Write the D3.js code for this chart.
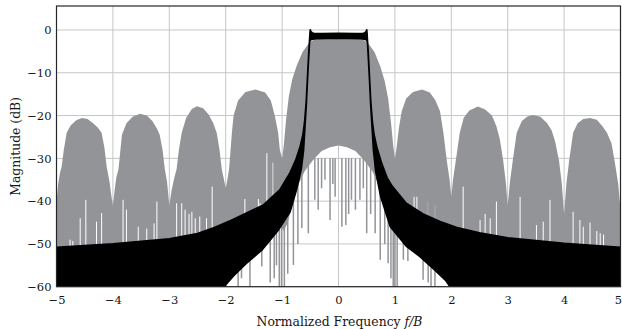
<!DOCTYPE html>
<html>
<head>
<meta charset="utf-8">
<script src="https://cdn.jsdelivr.net/npm/d3@7"></script>
<style>
  html, body { margin: 0; padding: 0; background: #fff; }
  svg { display: block; }
  text { font-family: "DejaVu Serif", serif; fill: #151515; }
</style>
</head>
<body>
<svg id="chart" width="622" height="329"></svg>
<script>
// Axis ticks
const freqTicks = [-5, -4, -3, -2, -1, 0, 1, 2, 3, 4, 5];
const dbTicks = [0, -10, -20, -30, -40, -50, -60];

// Signal spectrum: upper envelope of the lobes, [f/B, dB]
const spectrumTop = [
  [-5.00,-40],[-4.97,-36],[-4.94,-33.5],[-4.91,-32],[-4.87,-28],[-4.82,-24],[-4.75,-22.3],[-4.65,-21.1],[-4.55,-20.6],[-4.45,-20.8],[-4.35,-21.8],[-4.27,-22.8],[-4.20,-24],[-4.15,-27.5],[-4.11,-32],[-4.06,-35.5],[-4.03,-38.5],[-4.00,-41],
  [-3.97,-37.5],[-3.94,-34.5],[-3.90,-32.5],[-3.84,-24.5],[-3.76,-21.8],[-3.65,-20.3],[-3.52,-19.6],[-3.40,-20.0],[-3.30,-21.3],[-3.22,-23],[-3.17,-24.5],[-3.12,-28],[-3.08,-32.5],[-3.04,-35.5],[-3.00,-41],
  [-2.96,-37.5],[-2.91,-34.5],[-2.87,-32.5],[-2.83,-28],[-2.78,-24],[-2.70,-20.5],[-2.60,-18.5],[-2.51,-17.8],[-2.40,-18.3],[-2.30,-19.8],[-2.22,-21.8],[-2.16,-24],[-2.11,-28],[-2.07,-32.5],[-2.03,-35],[-2.00,-37],
  [-1.97,-35],[-1.94,-32.5],[-1.89,-24],[-1.86,-20],[-1.78,-16.5],[-1.65,-14.5],[-1.47,-13.9],[-1.30,-14.6],[-1.20,-16.5],[-1.13,-20],[-1.07,-24],[-1.04,-28],[-1.00,-30],
  [-0.97,-27],[-0.93,-21],[-0.88,-15.5],[-0.82,-11.5],[-0.74,-8.3],[-0.64,-5.2],[-0.52,-3.0],[-0.40,-2.0],[-0.20,-1.6],[0.00,-1.5],[0.20,-1.6],[0.40,-2.0],[0.52,-3.0],[0.64,-5.2],[0.74,-8.5],[0.82,-12],[0.88,-16],[0.93,-21.5],[0.97,-27],[1.00,-30],
  [1.03,-27.5],[1.07,-23],[1.12,-19],[1.20,-16],[1.32,-14.5],[1.48,-13.9],[1.62,-14.6],[1.72,-16.5],[1.80,-19],[1.86,-24],[1.92,-30.5],[1.97,-35],[2.00,-39],
  [2.03,-35],[2.08,-30.5],[2.15,-24],[2.22,-20.5],[2.32,-18.8],[2.47,-17.9],[2.60,-18.6],[2.72,-20],[2.80,-22.5],[2.86,-25.5],[2.92,-30.5],[2.97,-36],[3.00,-41],
  [3.04,-35.5],[3.09,-30.5],[3.16,-24],[3.25,-21.3],[3.35,-20.2],[3.45,-19.9],[3.58,-20.3],[3.70,-21.8],[3.78,-23.5],[3.84,-26],[3.91,-30.5],[3.96,-36],[4.00,-43],
  [4.04,-36],[4.09,-30.5],[4.16,-24],[4.24,-21.8],[4.34,-20.8],[4.46,-20.6],[4.58,-21],[4.68,-22.5],[4.76,-24],[4.84,-26.5],[4.90,-31],[4.96,-36],[5.00,-42]
];

// Signal spectrum: lower edge of the filled trace, [f/B, dB]
const spectrumBottom = [
  [-5.00,-61],[-1.99,-61],[-1.96,-48],[-1.50,-46],[-1.10,-44],[-0.97,-47],[-0.90,-45],[-0.85,-42.5],[-0.80,-40],
  [-0.70,-35.8],[-0.60,-33],[-0.45,-30.4],[-0.30,-28.3],[-0.15,-27.4],[0.00,-27],[0.15,-27.4],[0.30,-28.3],[0.45,-30.4],
  [0.60,-33],[0.70,-35.8],[0.80,-40],[0.85,-42.5],[0.90,-45],[0.97,-47],[1.10,-44],[1.50,-46],[1.96,-48],[1.99,-61],[5.00,-61]
];

// Narrow deep nulls inside the side lobes: [f/B, dB where the null opens]
const spectrumDips = [
  [-4.76,-49],[-4.71,-49.3],[-4.58,-44],[-4.48,-39.7],[-4.29,-44.8],[-4.20,-42.8],[-3.82,-39.7],[-3.76,-42],
  [-3.55,-46],[-3.40,-46.4],[-3.27,-45.2],[-3.22,-40.1],[-2.87,-40.5],[-2.78,-40.5],[-2.72,-42],[-2.65,-43],
  [-2.60,-42.5],[-2.54,-44],[-2.46,-43.6],[-2.34,-44],[-2.24,-36.6],[-1.72,-38.6],[-1.66,-39.5],[-1.42,-39.5],
  [-1.39,-40.5],[-1.27,-28.8],[-1.16,-31],[1.34,-39],[1.39,-39],[1.59,-40.1],[1.71,-41],[2.21,-36.6],
  [2.51,-44.4],[2.60,-43],[2.69,-44],[2.80,-40.1],[3.22,-39],[3.51,-45.6],[3.63,-44.8],[3.75,-39.7],
  [4.16,-42.5],[4.28,-44.4],[4.34,-46],[4.46,-45],[4.58,-47],[4.64,-47.5],[4.70,-47.8]
];

// Spectral spikes reaching below the main-lobe floor: [f/B, lowest dB]
const spectrumSpikes = [
  [-1.78,-60],[-1.72,-58],[-1.57,-60],[-1.36,-55.3],[-1.21,-59],[-1.14,-58],[-1.10,-55],[-1.05,-60],[-1.01,-60],
  [-0.96,-60],[-0.90,-57],[-0.80,-54.9],[-0.72,-50],[-0.65,-46.3],[-0.535,-47.5],[-0.42,-39.7],[-0.36,-42],
  [-0.30,-37],[-0.24,-35],[-0.15,-44.4],[-0.10,-36],[-0.06,-39],[0.06,-46],[0.13,-45.6],[0.18,-43],[0.23,-39.7],
  [0.30,-42],[0.38,-39.7],[0.44,-37],[0.50,-47.5],[0.57,-43],[0.65,-47.5],[0.74,-53.7],[0.82,-50],[0.88,-54.5],
  [0.93,-58],[0.97,-60],[1.00,-60],[1.04,-60],[1.15,-53.7],[1.23,-54],[1.50,-58.4],[1.59,-59],[1.64,-60],[1.71,-60]
];

// Filter response: upper and lower envelopes, [f/B, dB]
const filterUpper = [
  [-5.00,-50.8],[-4.00,-50.0],[-3.00,-48.8],[-2.50,-47.6],[-2.20,-46.2],[-1.90,-44.5],[-1.63,-42.8],[-1.33,-40.9],
  [-1.04,-37.4],[-0.86,-33.4],[-0.76,-30.5],[-0.68,-27.3],[-0.63,-24.5],[-0.60,-21.5],[-0.57,-16.5],[-0.545,-10],
  [-0.525,-5],[-0.512,-2.3],[-0.504,-0.6],[-0.500,0.0],[-0.49,-0.4],[-0.47,-0.65],[-0.44,-0.8],[-0.30,-0.85],
  [0.00,-0.8],[0.30,-0.85],[0.44,-0.8],[0.47,-0.65],[0.49,-0.4],[0.500,0.0],[0.504,-0.6],[0.512,-2.3],[0.525,-5],
  [0.545,-10],[0.57,-16.5],[0.60,-21.5],[0.63,-24.5],[0.68,-27.5],[0.76,-31],[0.86,-34.5],[0.95,-36.5],[1.20,-40.5],
  [1.50,-43],[1.80,-44.8],[2.10,-46.2],[2.50,-47.4],[3.00,-48.6],[4.00,-49.9],[5.00,-50.8]
];
const filterLower = [
  [-5.00,-61],[-2.03,-61],[-2.00,-59.5],[-1.85,-57.3],[-1.63,-54.5],[-1.35,-51.3],[-1.07,-46.8],[-0.86,-42.5],
  [-0.75,-37.5],[-0.66,-32.5],[-0.62,-28],[-0.595,-22.5],[-0.572,-17.5],[-0.548,-11],[-0.528,-6],[-0.515,-3],
  [-0.505,-2.4],[-0.48,-2.2],[-0.40,-2.0],[0.00,-1.9],[0.40,-2.0],[0.48,-2.2],[0.505,-2.4],[0.515,-3],[0.528,-6],
  [0.548,-11],[0.572,-17.5],[0.595,-22.5],[0.62,-28],[0.66,-33],[0.75,-39],[0.92,-46],[1.20,-50.5],[1.45,-53],
  [1.70,-56],[1.90,-58.5],[2.03,-61],[5.00,-61]
];

const svg = d3.select("#chart");
const plot = { left: 56.5, right: 620.5, top: 6, bottom: 286.7 };

const x = d3.scaleLinear().domain([-5, 5]).range([plot.left, plot.right]);
const y = d3.scaleLinear().domain([-60, 5.6]).range([plot.bottom, plot.top]);

svg.append("rect").attr("width", 622).attr("height", 329).attr("fill", "#fff");

svg.append("defs").append("clipPath").attr("id", "plotClip")
  .append("rect")
  .attr("x", plot.left).attr("y", plot.top)
  .attr("width", plot.right - plot.left).attr("height", plot.bottom - plot.top);

// Grid
const grid = svg.append("g").attr("stroke", "#c6c6c6").attr("stroke-width", 1);
grid.selectAll(".vg").data(freqTicks).join("line")
  .attr("x1", d => x(d)).attr("x2", d => x(d))
  .attr("y1", plot.top).attr("y2", plot.bottom);
grid.selectAll(".hg").data(dbTicks).join("line")
  .attr("x1", plot.left).attr("x2", plot.right)
  .attr("y1", d => y(d)).attr("y2", d => y(d));

const body = svg.append("g").attr("clip-path", "url(#plotClip)");
const line = d3.line().x(d => x(d[0])).y(d => y(d[1]));

// Signal spectrum (gray)
const gray = "#939498";
body.append("path")
  .attr("d", line(spectrumTop.concat(spectrumBottom.slice().reverse())) + "Z")
  .attr("fill", gray);

body.append("g").attr("stroke", "#fff").attr("stroke-width", 1)
  .selectAll("line").data(spectrumDips).join("line")
  .attr("x1", d => x(d[0])).attr("x2", d => x(d[0]))
  .attr("y1", d => y(d[1])).attr("y2", y(-60));

body.append("g").attr("stroke", gray).attr("stroke-width", 1.5)
  .selectAll("line").data(spectrumSpikes).join("line")
  .attr("x1", d => x(d[0])).attr("x2", d => x(d[0]))
  .attr("y1", y(-30)).attr("y2", d => y(d[1]));

// Filter response (black)
body.append("path")
  .attr("d", line(filterUpper.concat(filterLower.slice().reverse())) + "Z")
  .attr("fill", "#000")
  .attr("stroke", "#000")
  .attr("stroke-width", 1.8)
  .attr("stroke-linejoin", "round");

// Frame
svg.append("rect")
  .attr("x", plot.left).attr("y", plot.top)
  .attr("width", plot.right - plot.left).attr("height", plot.bottom - plot.top)
  .attr("fill", "none").attr("stroke", "#262626").attr("stroke-width", 1.2);

// Axes
const fmt = d3.format("d");
const xAxis = svg.append("g")
  .attr("transform", `translate(0,${plot.bottom})`)
  .call(d3.axisBottom(x).tickValues(freqTicks).tickSize(0).tickPadding(9).tickFormat(fmt));
const yAxis = svg.append("g")
  .attr("transform", `translate(${plot.left},0)`)
  .call(d3.axisLeft(y).tickValues(dbTicks).tickSize(0).tickPadding(5).tickFormat(fmt));
[xAxis, yAxis].forEach(a => {
  a.select(".domain").remove();
  a.selectAll("text").attr("font-family", "DejaVu Serif, serif").attr("font-size", 11.5).attr("fill", "#151515");
});
// keep the last frequency label inside the canvas
xAxis.selectAll(".tick text").filter(d => d === freqTicks[freqTicks.length - 1])
  .attr("text-anchor", "end").attr("x", 1);

// Axis titles
const xt = svg.append("text")
  .attr("x", (plot.left + plot.right) / 2 + 1).attr("y", 326)
  .attr("text-anchor", "middle").attr("font-size", 12.4);
xt.append("tspan").text("Normalized Frequency ");
xt.append("tspan").attr("font-style", "italic").text("f/B");

svg.append("text")
  .attr("transform", `translate(19.5,${(plot.top + plot.bottom) / 2}) rotate(-90)`)
  .attr("text-anchor", "middle").attr("font-size", 12.4)
  .text("Magnitude (dB)");
</script>
</body>
</html>
